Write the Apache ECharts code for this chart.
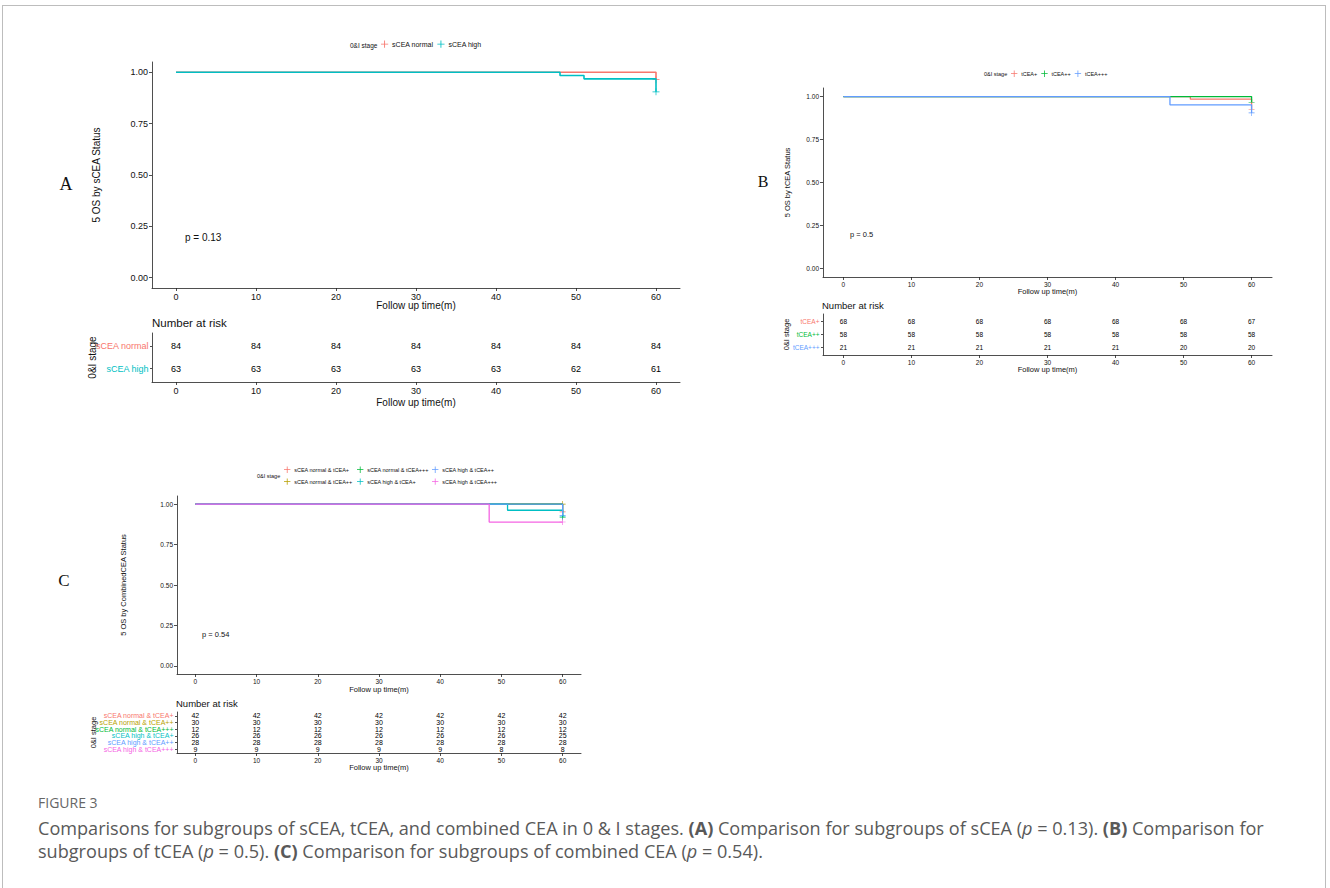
<!DOCTYPE html>
<html>
<head>
<meta charset="utf-8">
<script src="https://cdn.jsdelivr.net/npm/echarts@6/dist/echarts.min.js"></script>
<style>
  html,body{margin:0;padding:0;background:#fff;}
  #frame{position:absolute;left:2px;top:5px;width:1324px;height:900px;border:1px solid #bdbdbd;border-bottom:none;box-sizing:border-box;}
  #chart{position:absolute;left:0;top:0;width:1330px;height:888px;}
  .cap{position:absolute;left:38px;font-family:'Open Sans',sans-serif;color:#595959;}
</style>
</head>
<body>
<div id="frame"></div>
<div id="chart"></div>
<div class="cap" style="top:793px;font-size:14px;color:#666;">FIGURE 3</div>
<div class="cap" style="top:817px;font-size:18.1px;line-height:23px;width:1290px;white-space:nowrap;">Comparisons for subgroups of sCEA, tCEA, and combined CEA in 0 &amp; I stages. <b>(A)</b> Comparison for subgroups of sCEA (<i>p</i> = 0.13). <b>(B)</b> Comparison for<br>subgroups of tCEA (<i>p</i> = 0.5). <b>(C)</b> Comparison for subgroups of combined CEA (<i>p</i> = 0.54).</div>
<script>
// ---------- shared ticks ----------
const timeTicks = [0, 10, 20, 30, 40, 50, 60];
const survTicks = [0, 0.25, 0.5, 0.75, 1];

// ---------- Panel A: sCEA ----------
const namesA = ['sCEA normal', 'sCEA high'];
const colorsA = ['#F8766D', '#00BFC4'];
const timesA_normal = [0, 60];
const survA_normal = [1, 0.964];
const timesA_high = [0, 48, 51, 60];
const survA_high = [1, 0.984, 0.968, 0.905];
const riskA_normal = [84, 84, 84, 84, 84, 84, 84];
const riskA_high = [63, 63, 63, 63, 63, 62, 61];

// ---------- Panel B: tCEA ----------
const namesB = ['tCEA+', 'tCEA++', 'tCEA+++'];
const colorsB = ['#F8766D', '#00BA38', '#619CFF'];
const timesB_1 = [0, 51, 60];
const survB_1 = [1, 0.985, 0.926];
const timesB_2 = [0, 60];
const survB_2 = [1, 0.966];
const timesB_3 = [0, 48, 60];
const survB_3 = [1, 0.952, 0.905];
const riskB_1 = [68, 68, 68, 68, 68, 68, 67];
const riskB_2 = [58, 58, 58, 58, 58, 58, 58];
const riskB_3 = [21, 21, 21, 21, 21, 20, 20];

// ---------- Panel C: combined CEA ----------
const namesC = ['sCEA normal & tCEA+', 'sCEA normal & tCEA++', 'sCEA normal & tCEA+++',
                'sCEA high & tCEA+', 'sCEA high & tCEA++', 'sCEA high & tCEA+++'];
const colorsC = ['#F8766D', '#B79F00', '#00BA38', '#00BFC4', '#619CFF', '#F564E3'];
const timesC_1 = [0, 60];      const survC_1 = [1, 0.952];
const timesC_2 = [0, 60];      const survC_2 = [1, 1];
const timesC_3 = [0, 60];      const survC_3 = [1, 0.917];
const timesC_4 = [0, 51, 60];  const survC_4 = [1, 0.962, 0.923];
const timesC_5 = [0, 60];      const survC_5 = [1, 0.929];
const timesC_6 = [0, 48, 60];  const survC_6 = [1, 0.889, 0.889];
const riskC_1 = [42, 42, 42, 42, 42, 42, 42];
const riskC_2 = [30, 30, 30, 30, 30, 30, 30];
const riskC_3 = [12, 12, 12, 12, 12, 12, 12];
const riskC_4 = [26, 26, 26, 26, 26, 26, 25];
const riskC_5 = [28, 28, 28, 28, 28, 28, 28];
const riskC_6 = [9, 9, 9, 9, 9, 8, 8];

// ---------- build ----------
const FONT = "'Liberation Sans', Arial, sans-serif";
const AX = '#222';
const panels = [
  { names: namesA, colors: colorsA,
    km: [[timesA_normal, survA_normal], [timesA_high, survA_high]],
    risk: [riskA_normal, riskA_high],
    grid: {left: 152, top: 62, width: 528, height: 226},
    rgrid: {left: 152, top: 333, width: 528, height: 49},
    fs: {tick: 9, title: 10, num: 9, rlab: 9}, yGap: 51, xGap: 12, rxGap: 15, ryGap: 55, yName: '5 OS by sCEA Status' },
  { names: namesB, colors: colorsB,
    km: [[timesB_1, survB_1], [timesB_2, survB_2], [timesB_3, survB_3]],
    risk: [riskB_1, riskB_2, riskB_3],
    grid: {left: 823, top: 88, width: 449, height: 189},
    rgrid: {left: 823, top: 314, width: 449, height: 41},
    fs: {tick: 6.5, title: 7.5, num: 6.5, rlab: 6.5}, yGap: 32, xGap: 10.5, rxGap: 10.5, ryGap: 33, yName: '5 OS by tCEA Status' },
  { names: namesC, colors: colorsC,
    km: [[timesC_1, survC_1], [timesC_2, survC_2], [timesC_3, survC_3], [timesC_4, survC_4], [timesC_5, survC_5], [timesC_6, survC_6]],
    risk: [riskC_1, riskC_2, riskC_3, riskC_4, riskC_5, riskC_6],
    grid: {left: 177, top: 496, width: 404, height: 178},
    rgrid: {left: 177, top: 712, width: 404, height: 41},
    fs: {tick: 6.5, title: 7.5, num: 7, rlab: 7}, yGap: 50, xGap: 11.5, rxGap: 10.5, ryGap: 80, yName: '5 OS by CombinedCEA Status' }
];

const grid = [], xAxis = [], yAxis = [], series = [];
const axLine = {show: true, onZero: false, lineStyle: {color: AX, width: 0.8}};
const hidden = {color: 'rgba(0,0,0,0)', opacity: 1};
panels.forEach((p, pi) => {
  const gi = grid.length;
  grid.push(p.grid);
  grid.push(p.rgrid);
  const xCommon = (idx, gap) => ({
    gridIndex: idx, type: 'value', min: -3, max: 63,
    axisLine: axLine,
    axisTick: {show: true, customValues: timeTicks, length: 3, lineStyle: {color: AX, width: 0.8}},
    axisLabel: {customValues: timeTicks, fontSize: p.fs.tick, color: '#111', fontFamily: FONT, margin: 4},
    splitLine: {show: false},
    name: 'Follow up time(m)', nameLocation: 'middle', nameGap: gap, nameMoveOverlap: false,
    nameTextStyle: {fontSize: p.fs.title, color: '#111', fontFamily: FONT}
  });
  xAxis.push(xCommon(gi, p.xGap));
  xAxis.push(xCommon(gi + 1, p.rxGap));
  yAxis.push({
    gridIndex: gi, type: 'value', min: -0.05, max: 1.05,
    axisLine: axLine,
    axisTick: {show: true, customValues: survTicks, length: 3, lineStyle: {color: AX, width: 0.8}},
    axisLabel: {customValues: survTicks, formatter: v => v.toFixed(2), fontSize: p.fs.tick, color: '#111', fontFamily: FONT, margin: 4},
    splitLine: {show: false},
    name: p.yName, nameLocation: 'middle', nameRotate: 90, nameGap: p.yGap, nameMoveOverlap: false,
    nameTextStyle: {fontSize: p.fs.title, color: '#111', fontFamily: FONT}
  });
  const rows = p.names.map((n, i) => i + 1);
  yAxis.push({
    gridIndex: gi + 1, type: 'value', inverse: true, min: 0.4, max: p.names.length + 0.6,
    axisLine: axLine,
    axisTick: {show: true, customValues: rows, length: 2, lineStyle: {color: AX, width: 0.8}},
    axisLabel: {show: false},
    splitLine: {show: false},
    name: '0&I stage', nameLocation: 'middle', nameRotate: 90, nameGap: p.ryGap, nameMoveOverlap: false,
    nameTextStyle: {fontSize: p.fs.title, color: '#111', fontFamily: FONT}
  });
  // KM curves
  p.km.forEach((k, i) => {
    const data = k[0].map((t, j) => [t, k[1][j]]);
    series.push({
      type: 'line', name: p.names[i], xAxisIndex: gi, yAxisIndex: gi,
      data: data, step: 'end', symbol: 'none', silent: true, animation: false,
      lineStyle: {color: p.colors[i], width: pi === 0 ? 1.6 : 1.3, opacity: 1},
      itemStyle: {color: p.colors[i], opacity: 1}
    });
    const last = data[data.length - 1];
    series.push({
      type: 'scatter', name: p.names[i], xAxisIndex: gi, yAxisIndex: gi,
      data: [last], symbol: 'path://M4.5,0h1v4.5h4.5v1h-4.5v4.5h-1v-4.5h-4.5v-1h4.5z',
      symbolSize: pi === 0 ? 7 : 6, itemStyle: {color: p.colors[i], opacity: 1}, silent: true, animation: false
    });
  });
  // risk table row labels (strata names, coloured), placed at the left edge of the table
  series.push({
    type: 'scatter', xAxisIndex: gi + 1, yAxisIndex: gi + 1,
    data: p.names.map((n, i) => ({value: [-3, i + 1], name: n,
      label: {color: p.colors[i]}})),
    symbolSize: 1, itemStyle: hidden, silent: true, animation: false, clip: false,
    label: {show: true, position: 'left', distance: 3, formatter: q => q.name, fontSize: p.fs.rlab, fontFamily: FONT, opacity: 1}
  });
  // risk numbers
  const rdata = [];
  p.risk.forEach((r, i) => r.forEach((v, j) => rdata.push([timeTicks[j], i + 1, v])));
  series.push({
    type: 'scatter', xAxisIndex: gi + 1, yAxisIndex: gi + 1, data: rdata,
    symbolSize: 1, itemStyle: hidden, silent: true, animation: false,
    label: {show: true, position: 'inside', formatter: q => String(q.value[2]), color: '#000', fontSize: p.fs.num, fontFamily: FONT, opacity: 1}
  });
});

const plus = 'path://M0,4.4h10v1.2h-10z M4.4,0h1.2v10h-1.2z';
const legendBase = (data, left, top, fs, orient, gap, iw) => ({
  data: data, left: left, top: top, orient: orient || 'horizontal', icon: plus, padding: 0,
  itemWidth: iw, itemHeight: iw * 0.8, itemGap: gap, selectedMode: false,
  itemStyle: {opacity: 1},
  textStyle: {fontSize: fs, color: '#111', fontFamily: FONT, padding: [0, 0, 0, -2]}
});
const legend = [
  legendBase(namesA, 381, 40.5, 7, 'horizontal', 4, 9),
  legendBase(namesB, 1011, 70.5, 5.5, 'horizontal', 4, 8),
  legendBase([namesC[0], namesC[1]], 284, 466.5, 5.5, 'vertical', 5.5, 8),
  legendBase([namesC[2], namesC[3]], 357, 466.5, 5.5, 'vertical', 5.5, 8),
  legendBase([namesC[4], namesC[5]], 432, 466.5, 5.5, 'vertical', 5.5, 8)
];

const txt = (x, y, text, size, opts) => ({
  type: 'text', x: x, y: y,
  style: Object.assign({text: text, fontSize: size, fontFamily: FONT, fill: '#111', textVerticalAlign: 'middle'}, opts || {})
});
const graphic = [
  txt(66, 184, 'A', 18, {fontFamily: "'Liberation Serif', serif", textAlign: 'center'}),
  txt(763, 181, 'B', 16, {fontFamily: "'Liberation Serif', serif", textAlign: 'center'}),
  txt(64, 580, 'C', 17, {fontFamily: "'Liberation Serif', serif", textAlign: 'center'}),
  txt(185, 237, 'p = 0.13', 10),
  txt(850, 234, 'p = 0.5', 7.5),
  txt(202, 634, 'p = 0.54', 7.5),
  txt(152, 323, 'Number at risk', 11.5),
  txt(822, 305, 'Number at risk', 9.5),
  txt(176, 703, 'Number at risk', 9.5),
  txt(350, 45, '0&I stage', 6.5),
  txt(984, 74, '0&I stage', 5.5),
  txt(257, 476, '0&I stage', 5.5)
];

const chart = echarts.init(document.getElementById('chart'), null, {renderer: 'svg', width: 1330, height: 888});
chart.setOption({
  animation: false, backgroundColor: 'transparent',
  grid: grid, xAxis: xAxis, yAxis: yAxis, series: series, legend: legend, graphic: graphic
});
</script>
</body>
</html>
